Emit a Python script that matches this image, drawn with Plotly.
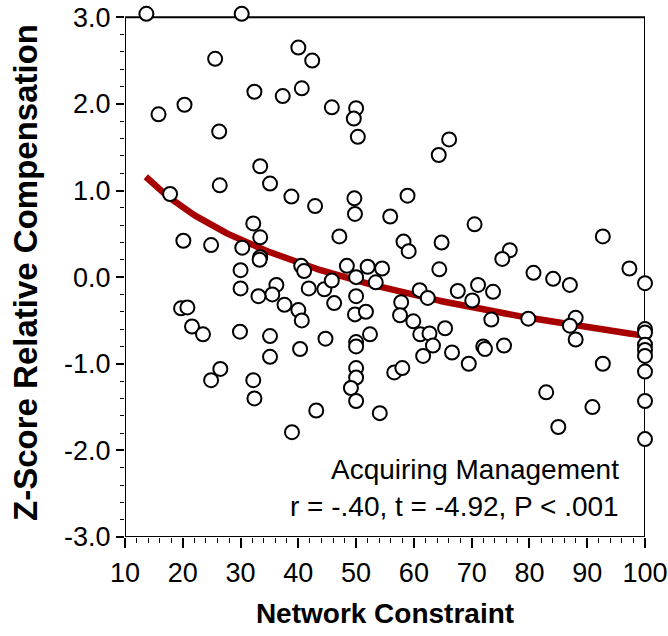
import numpy as np
import plotly.graph_objects as go

# Network constraint (x) and z-score relative compensation (y) per manager
constraint = [
    13.7, 30.2, 25.6, 40.0, 42.4, 40.6, 32.4, 37.3, 15.8, 20.3,
    26.3, 45.8, 50.0, 49.6, 50.3, 66.1, 64.3, 33.4, 35.1, 26.4,
    38.8, 17.8, 42.9, 49.7, 49.8, 58.9, 55.9, 47.1, 58.2, 59.1,
    64.8, 64.4, 70.5, 32.2, 33.4, 20.1, 24.9, 30.3, 33.4, 33.3,
    40.5, 41.0, 30.0, 30.0, 36.2, 35.5, 33.1, 37.6, 40.0, 19.7,
    20.8, 21.6, 23.5, 29.9, 35.1, 40.6, 40.3, 35.1, 26.5, 24.9,
    32.2, 32.4, 38.9, 41.8, 44.5, 45.8, 48.4, 50.0, 52.0, 54.5,
    53.4, 46.2, 50.0, 49.8, 51.7, 61.0, 62.4, 57.8, 57.6, 59.9,
    61.1, 62.7, 65.4, 63.3, 61.6, 66.6, 52.4, 50.0, 50.0, 44.7,
    50.0, 50.0, 49.1, 50.0, 43.1, 54.1, 56.6, 58.0, 92.7, 76.6,
    75.3, 80.7, 84.1, 87.0, 97.3, 100.0, 71.1, 67.6, 73.7, 70.1,
    73.4, 79.8, 88.0, 87.0, 88.0, 100.0, 100.0, 100.0, 100.0, 100.0,
    100.0, 72.0, 72.3, 75.6, 69.5, 92.7, 82.9, 90.9, 85.0, 100.0,
    100.0,
]
zscore = [
    3.04, 3.04, 2.52, 2.65, 2.50, 2.18, 2.14, 2.09, 1.88, 1.99,
    1.68, 1.96, 1.95, 1.83, 1.62, 1.59, 1.41, 1.28, 1.08, 1.06,
    0.93, 0.96, 0.82, 0.91, 0.73, 0.94, 0.70, 0.47, 0.41, 0.30,
    0.40, 0.09, 0.61, 0.62, 0.46, 0.42, 0.37, 0.34, 0.23, 0.20,
    0.13, 0.07, 0.08, -0.13, -0.09, -0.20, -0.22, -0.32, -0.38, -0.36,
    -0.35, -0.57, -0.66, -0.63, -0.68, -0.50, -0.83, -0.92, -1.06, -1.19,
    -1.19, -1.40, -1.79, -0.13, -0.14, -0.04, 0.13, 0.00, 0.12, 0.10,
    -0.06, -0.30, -0.22, -0.43, -0.40, -0.15, -0.24, -0.29, -0.44, -0.51,
    -0.66, -0.65, -0.59, -0.79, -0.91, -0.87, -0.66, -0.75, -0.80, -0.71,
    -1.05, -1.16, -1.28, -1.43, -1.54, -1.57, -1.10, -1.05, 0.47, 0.31,
    0.21, 0.05, -0.02, -0.09, 0.10, -0.07, -0.09, -0.16, -0.17, -0.27,
    -0.49, -0.48, -0.47, -0.56, -0.72, -0.60, -0.64, -0.78, -0.84, -0.91,
    -1.09, -0.80, -0.83, -0.79, -1.00, -1.00, -1.33, -1.50, -1.73, -1.43,
    -1.87,
]

# Logarithmic fit: z = FIT_A + FIT_B * ln(constraint)
FIT_A = 3.56
FIT_B = -0.92
FIT_X_START = 13.6
FIT_X_END = 100.0

x_ticks = [10, 20, 30, 40, 50, 60, 70, 80, 90, 100]
x_tick_text = ["10", "20", "30", "40", "50", "60", "70", "80", "90", "100"]
y_ticks = [-3.0, -2.0, -1.0, 0.0, 1.0, 2.0, 3.0]
y_tick_text = ["-3.0", "-2.0", "-1.0", "0.0", "1.0", "2.0", "3.0"]

X_MIN, X_MAX = 10, 100
Y_MIN, Y_MAX = -3.0, 3.0
Y_HEADROOM = 0.107  # room above the frame for points at the top edge

group_label = "Acquiring Management"
stats_label = "r = -.40, t = -4.92, P < .001"

FONT = "Liberation Sans, Arial, Helvetica, sans-serif"

fit_x = np.linspace(FIT_X_START, FIT_X_END, 200)
fit_y = FIT_A + FIT_B * np.log(fit_x)

fig = go.Figure()
fig.add_trace(go.Scatter(
    x=fit_x, y=fit_y, mode="lines",
    line=dict(color="#A80000", width=6.5),
    hoverinfo="skip", cliponaxis=False,
))
fig.add_trace(go.Scatter(
    x=constraint, y=zscore, mode="markers",
    marker=dict(symbol="circle", size=14, color="white",
                line=dict(color="black", width=2)),
    cliponaxis=False,
))

# Frame around the data region (drawn beneath the markers)
fig.add_shape(type="rect", xref="x", yref="y",
              x0=X_MIN, x1=X_MAX, y0=Y_MIN, y1=Y_MAX,
              line=dict(color="black", width=2), layer="below")

fig.add_annotation(x=95.8, y=-2.225, xref="x", yref="y", text=group_label,
                   showarrow=False, xanchor="right", yanchor="middle", align="right",
                   font=dict(family=FONT, size=28, color="black"))
fig.add_annotation(x=95.8, y=-2.645, xref="x", yref="y", text=stats_label,
                   showarrow=False, xanchor="right", yanchor="middle", align="right",
                   font=dict(family=FONT, size=28, color="black"))

axis_common = dict(
    showline=False, automargin=False,
    ticks="outside", tickwidth=1.5, tickcolor="black",
    showgrid=False, zeroline=False,
    tickfont=dict(family=FONT, size=27, color="black"),
)

fig.update_xaxes(
    range=[X_MIN, X_MAX], tickvals=x_ticks, ticktext=x_tick_text, ticklen=10,
    ticklabelstandoff=2,
    minor=dict(dtick=2, ticks="outside", ticklen=5, tickcolor="black", tickwidth=1),
    title=dict(text="<b>Network Constraint</b>", standoff=15,
               font=dict(family=FONT, size=28, color="black")),
    **axis_common,
)
fig.update_yaxes(
    range=[Y_MIN, Y_MAX + Y_HEADROOM], tickvals=y_ticks, ticktext=y_tick_text, ticklen=8,
    minor=dict(tickvals=[round(-3 + 0.2 * i, 1) for i in range(31)],
               ticks="outside", ticklen=4, tickcolor="black", tickwidth=1),
    title=dict(text="<b>Z-Score Relative Compensation</b>", standoff=16,
               font=dict(family=FONT, size=33, color="black")),
    **axis_common,
)

fig.update_layout(
    width=668, height=636,
    margin=dict(l=125, r=23, t=8, b=99),
    paper_bgcolor="white", plot_bgcolor="white",
    showlegend=False,
)

fig.write_html("out.html")
